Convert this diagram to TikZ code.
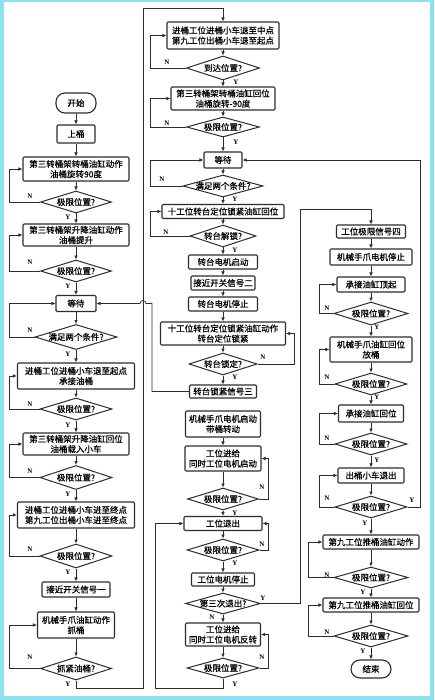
\documentclass[tikz,border=0pt]{standalone}
\usepackage{fontspec}
\setmainfont{Liberation Serif}
\newfontfamily\cjk[FakeBold=0.6]{Noto Sans CJK SC}
\usetikzlibrary{shapes.geometric,arrows.meta}
\definecolor{edgecyan}{RGB}{140,226,238}
\definecolor{ln}{RGB}{45,45,45}
\newcommand{\dtxt}[1]{\makebox[0pt]{#1}}
\begin{document}
\begin{tikzpicture}[x=1pt,y=-1pt,
  wh/.style 2 args={minimum width=#1,minimum height=#2},
  box/.style={draw=ln,line width=1.1pt,rounded corners=1.2pt,fill=white,inner sep=1pt,align=center,
    font=\fontsize{8.5}{10.2}\cjk},
  term/.style={box,rounded corners=9pt},
  dia/.style={diamond,draw=ln,line width=1pt,fill=white,inner sep=0pt,aspect=1,
    font=\fontsize{8.5}{10.2}\cjk},
  arr/.style={draw=ln,line width=0.7pt,-{Latex[length=4pt,width=3.6pt]}},
  lab/.style={inner sep=0pt,font=\fontsize{7}{8}\selectfont\bfseries}]
\useasboundingbox (0,0) rectangle (434,700);
\fill[edgecyan] (0,0) rectangle (434,700);
\fill[white] (4,2.5) rectangle (429.5,696);

% ---------- column 1
\node[term,wh={40}{20}] (s1) at (76,103) {开始};
\node[box,wh={38}{18}] (b1) at (76,134) {上桶};
\node[box,wh={106}{24}] (b2) at (76,169) {第三转桶架转桶油缸动作\\油桶旋转90度};
\node[dia,wh={71}{22}] (d1) at (76,202) {\dtxt{极限位置?}};
\node[box,wh={106}{22}] (b3) at (76,235) {第三转桶架升降油缸动作\\油桶提升};
\node[dia,wh={71}{22}] (d2) at (76,271) {\dtxt{极限位置?}};
\node[box,wh={40}{16}] (w1) at (76,303.5) {等待};
\node[dia,wh={82}{25}] (d3) at (76,337) {\dtxt{满足两个条件?}};
\node[box,wh={117}{26}] (b4) at (76,376) {进桶工位进桶小车退至起点\\承接油桶};
\node[dia,wh={72}{22}] (d4) at (76,409) {\dtxt{极限位置?}};
\node[box,wh={106}{22}] (b5) at (76,444) {第三转桶架升降油缸回位\\油桶载入小车};
\node[dia,wh={72}{24}] (d5) at (76,477.5) {\dtxt{极限位置?}};
\node[box,wh={117}{26}] (b6) at (76,515) {进桶工位进桶小车进至终点\\第九工位出桶小车进至终点};
\node[dia,wh={72}{24}] (d6) at (76,556) {\dtxt{极限位置?}};
\node[box,wh={68}{15}] (b7) at (76,589.5) {接近开关信号一};
\node[box,wh={77}{26}] (b8) at (76,625) {机械手爪油缸动作\\抓桶};
\node[dia,wh={71}{23}] (d7) at (76,668.5) {\dtxt{抓紧油桶?}};

% ---------- column 2
\node[box,wh={112}{27}] (bA) at (223,35.5) {进桶工位进桶小车退至中点\\第九工位出桶小车退至起点};
\node[dia,wh={73}{24}] (dA) at (223,68) {\dtxt{到达位置?}};
\node[box,wh={104}{23}] (bB) at (223,98.5) {第三转桶架转桶油缸回位\\油桶旋转-90度};
\node[dia,wh={73}{20}] (dB) at (223,127) {\dtxt{极限位置?}};
\node[box,wh={38}{16}] (wB) at (223,160) {等待};
\node[dia,wh={80}{22}] (dC) at (223,186) {\dtxt{满足两个条件?}};
\node[box,wh={122}{14}] (bC) at (223,211.5) {十工位转台定位锁紧油缸回位};
\node[dia,wh={66}{22}] (dD) at (223,236) {\dtxt{转台解锁?}};
\node[box,wh={69}{14}] (bD) at (223,262) {转台电机启动};
\node[box,wh={64}{14}] (bE) at (223,283) {接近开关信号二};
\node[box,wh={69}{14}] (bF) at (223,304) {转台电机停止};
\node[box,wh={125}{23}] (bG) at (223,333.5) {十工位转台定位锁紧油缸动作\\转台定位锁紧};
\node[dia,wh={68}{22}] (dE) at (223,364) {\dtxt{转台锁定?}};
\node[box,wh={67}{13}] (bH) at (223,391.5) {转台锁紧信号三};
\node[box,wh={75}{26}] (bI) at (223,424) {机械手爪电机启动\\带桶转动};
\node[box,wh={76}{25}] (bJ) at (223,458.5) {工位进给\\同时工位电机启动};
\node[dia,wh={71}{22}] (dF) at (223,499) {\dtxt{极限位置?}};
\node[box,wh={78}{14}] (bK) at (223,523.5) {工位退出};
\node[dia,wh={72}{22}] (dG) at (223,550) {\dtxt{极限位置?}};
\node[box,wh={63}{13}] (bL) at (223,579.5) {工位电机停止};
\node[dia,wh={75}{21}] (dH) at (223,603.5) {\dtxt{第三次退出?}};
\node[box,wh={75}{23}] (bM) at (223,634.5) {工位进给\\同时工位电机反转};
\node[dia,wh={72}{20}] (dI) at (223,668) {\dtxt{极限位置?}};

% ---------- column 3
\node[box,wh={69}{13}] (bN) at (371,231.5) {工位极限信号四};
\node[box,wh={82}{16}] (bO) at (371,257) {机械手爪电机停止};
\node[box,wh={68}{15}] (bP) at (371,284.5) {承接油缸顶起};
\node[dia,wh={74}{23}] (dJ) at (371,313.5) {\dtxt{极限位置?}};
\node[box,wh={82}{25}] (bQ) at (371,349.5) {机械手爪油缸回位\\放桶};
\node[dia,wh={72}{22}] (dK) at (371,384) {\dtxt{极限位置?}};
\node[box,wh={65}{17}] (bR) at (371,413.5) {承接油缸回位};
\node[dia,wh={72}{22}] (dL) at (371,444) {\dtxt{极限位置?}};
\node[box,wh={66}{15}] (bS) at (371,475.5) {出桶小车退出};
\node[dia,wh={72}{22}] (dM) at (371,507) {\dtxt{极限位置?}};
\node[box,wh={96}{14}] (bT) at (371,542) {第九工位推桶油缸动作};
\node[dia,wh={74}{21}] (dN) at (371,577.5) {\dtxt{极限位置?}};
\node[box,wh={96}{14}] (bU) at (371,605) {第九工位推桶油缸回位};
\node[dia,wh={74}{22}] (dO) at (371,636) {\dtxt{极限位置?}};
\node[term,wh={40}{18}] (e1) at (371,669) {结束};

% ---------- helper coordinates
\coordinate (xa) at (9.5,0);
\coordinate (xb) at (150,0);
\coordinate (xc) at (268,0);
\coordinate (xd) at (294,0);
\coordinate (xe) at (319,0);
\coordinate (xf) at (308,0);
\coordinate (bigB) at (143,688);
\coordinate (bigT) at (223,8);
\coordinate (hopA) at (152,303.5);
\coordinate (hopB) at (146,303.5);
\coordinate (retB) at (155,688);
\coordinate (c3T) at (300,209);
\coordinate (rT) at (420,160);

% ---------- column 1 connectors
\foreach \a/\b in {s1/b1,b1/b2,b2/d1,d1/b3,b3/d2,d2/w1,w1/d3,d3/b4,b4/d4,d4/b5,b5/d5,d5/b6,b6/d6,d6/b7,b7/b8,b8/d7}
  \draw[arr] (\a.south) -- (\b.north);
\foreach \a/\b in {d1/b2,d2/b3,d3/w1,d4/b4,d5/b5,d6/b6,d7/b8}
  \draw[arr] (\a.west) -- (\a.west -| xa) |- (\b.west);
\draw[arr] (d7.south) |- (bigB) |- (bigT) -- (bA.north);

% ---------- column 2 connectors
\foreach \a/\b in {bA/dA,dA/bB,bB/dB,dB/wB,wB/dC,dC/bC,bC/dD,dD/bD,bD/bE,bE/bF,bF/bG,bG/dE,dE/bH,bI/bJ,bJ/dF,dF/bK,bK/dG,dG/bL,bL/dH,dH/bM,bM/dI}
  \draw[arr] (\a.south) -- (\b.north);
\foreach \a/\b in {dA/bA,dB/bB,dC/wB,dD/bC}
  \draw[arr] (\a.west) -- (\a.west -| xb) |- (\b.west);
\foreach \a/\b in {dF/bJ,dG/bK,dI/bM}
  \draw[arr] (\a.east) -- (\a.east -| xc) |- (\b.east);
\draw[arr] (dE.east) -- (dE.east -| xd) |- (bG.east);
\draw[arr] (bH.west) -| (hopA) -- (hopB) arc[start angle=0,end angle=-180,radius=3] -- (w1.east);
\draw[arr] (dI.south) |- (retB) |- (bK.west);
\draw[arr] (dH.east) -| (c3T) -| (bN.north);

% ---------- column 3 connectors
\foreach \a/\b in {bN/bO,bO/bP,bP/dJ,dJ/bQ,bQ/dK,dK/bR,bR/dL,dL/bS,bS/dM,dM/bT,bT/dN,dN/bU,bU/dO,dO/e1}
  \draw[arr] (\a.south) -- (\b.north);
\foreach \a/\b in {dJ/bP,dK/bQ,dL/bR,dM/bS}
  \draw[arr] (\a.west) -- (\a.west -| xe) |- (\b.west);
\foreach \a/\b in {dN/bT,dO/bU}
  \draw[arr] (\a.west) -- (\a.west -| xf) |- (\b.west);
\draw[arr] (dM.east) -| (rT) -- (wB.east);

% ---------- labels
\foreach \n/\x/\y in {n1/30/196,n2/30/262,n3/30/330,n4/30/404,n5/30/471,n6/30/549,n7/30/657,
  n8/167/62,n9/167/123,n10/162/179,n11/166/232,
  n12/263/357,n13/262/487,n14/262/544,n15/262/657,n16/212/617,
  n17/327/308,n18/327/377,n19/327/438,n20/327/498,n21/327/575,n22/327/632}
  \node[lab] (\n) at (\x,\y) {N};
\foreach \n/\x/\y in {y1/68/217,y2/68/286,y3/68/354,y4/68/425,y5/68/494,y6/68/572,y7/68/684,
  y8/236/82,y9/236/142,y10/235/199,y11/235/250,y12/235/377,y13/235/513,y14/235/563,y15/235/684,y16/263/598,
  y17/377/327,y18/377/397,y19/377/460,y20/365/523,y21/412/500,y22/363/592,y23/363/651}
  \node[lab] (\n) at (\x,\y) {Y};
\end{tikzpicture}
\end{document}
